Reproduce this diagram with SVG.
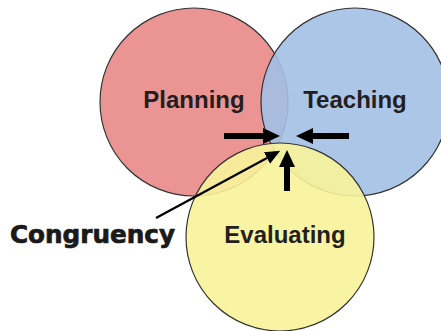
<svg xmlns="http://www.w3.org/2000/svg" width="441" height="331" viewBox="0 0 441 331">
<style>
.c{stroke:#333;stroke-width:1.2}
.lbl{font-family:"Liberation Sans",Arial,sans-serif;font-weight:bold;font-size:24px;fill:#231F20;text-anchor:middle}
.big{font-family:"DejaVu Sans",sans-serif;font-weight:bold;font-size:24px;fill:#1a1a1a;stroke:#1a1a1a;stroke-width:0.7}
.thick{stroke:#000;stroke-width:6;fill:none}
.thin{stroke:#000;stroke-width:2.2;fill:none}
</style>
<defs>
<marker id="hd" markerUnits="userSpaceOnUse" markerWidth="18" markerHeight="18" refX="0" refY="8" orient="auto" viewBox="0 0 18 16">
<path d="M0,0 L17,8 L0,16 Z" fill="#000"/>
</marker>
<marker id="hs" markerUnits="userSpaceOnUse" markerWidth="16" markerHeight="14" refX="0" refY="6.5" orient="auto" viewBox="0 0 16 13">
<path d="M0,0 L15,6.5 L0,13 Z" fill="#000"/>
</marker>
</defs>
<g id="planning">
<circle class="c" cx="194" cy="102" r="94" fill="#EA9494"/>
</g>
<g id="teaching">
<circle class="c" cx="355" cy="102" r="94" fill="#A3C0E6" fill-opacity="0.9"/>
</g>
<g id="evaluating">
<circle class="c" cx="280" cy="237" r="94" fill="#F8F39A" fill-opacity="0.9"/>
</g>
<text class="lbl" x="194" y="108">Planning</text>
<text class="lbl" x="355" y="108">Teaching</text>
<text class="lbl" x="285" y="243">Evaluating</text>
<g id="congruency">
<text class="big" x="10" y="243" textLength="165" lengthAdjust="spacingAndGlyphs">Congruency</text>
</g>
<g id="connectors">
<line class="thick" x1="224" y1="136" x2="263" y2="136" marker-end="url(#hd)"/>
<line class="thick" x1="349" y1="136" x2="313" y2="136" marker-end="url(#hd)"/>
<line class="thick" x1="287" y1="191" x2="287" y2="167" marker-end="url(#hd)"/>
<line class="thin" x1="156" y1="218" x2="267" y2="158" marker-end="url(#hs)"/>
</g>
</svg>
